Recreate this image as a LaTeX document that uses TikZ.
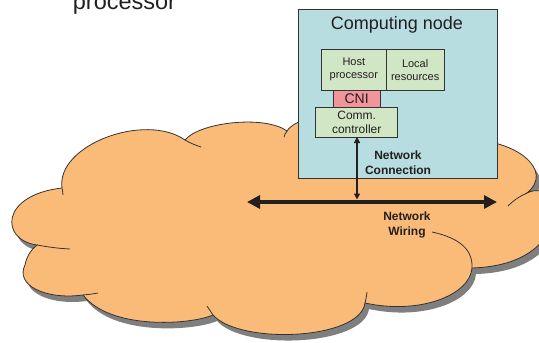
\documentclass[tikz,border=0pt]{standalone}
\usepackage{fontspec}
\setmainfont{Liberation Sans}
\usetikzlibrary{arrows.meta}

\definecolor{cloudfill}{HTML}{FBBB78}
\definecolor{cloudshadow}{HTML}{7F7F7F}
\definecolor{edgegray}{HTML}{333333}
\definecolor{nodefill}{HTML}{B7DDE1}
\definecolor{unitfill}{HTML}{D1E6C4}
\definecolor{cnifill}{HTML}{F2959B}
\definecolor{inkdark}{HTML}{231F20}

% outline of the network cloud (pixel-like units, y grows downwards)
\newcommand\netcloud[1]{%
  \path[#1] (62,188) .. controls (56,145) and (145,112) .. (185,140)
    .. controls (200,122) and (265,115) .. (287,131)
    .. controls (300,110) and (400,95) .. (470,140)
    .. controls (515,140) and (555,170) .. (527,193)
    .. controls (565,175) and (575,265) .. (472,268)
    .. controls (470,295) and (420,315) .. (365,303)
    .. controls (360,340) and (240,345) .. (213,315)
    .. controls (190,325) and (110,330) .. (83,295)
    .. controls (45,300) and (15,285) .. (25,265)
    .. controls (27,255) and (32,249) .. (37,245)
    .. controls (0,240) and (0,195) .. (62,188) -- cycle;}

\tikzset{
  cloudedge/.style={draw=edgegray, line width=0.8pt},
  unitbox/.style={draw=edgegray, line width=0.8pt, fill=unitfill, inner sep=0pt,
    outer sep=0pt, align=center, text=inkdark},
  boldlabel/.style={font=\bfseries\fontsize{12}{15}\selectfont, align=center, text=inkdark},
}

\begin{document}
\begin{tikzpicture}[x=1pt, y=-1pt]
\useasboundingbox (0,0) rectangle (539,343);
\clip (0,0) rectangle (539,343);

% caption text partly cut off at the top edge
\node[anchor=base, text=inkdark, font=\fontsize{23.5}{28}\selectfont, inner sep=0pt]
  (caption) at (124.5,9.5) {processor};

% cloud: shadow, body, and the short inner arcs of the lobes
\netcloud{fill=cloudshadow, shift={(4,6)}}
\netcloud{fill=cloudfill, cloudedge}
\draw[cloudedge] (62,188) .. controls (62.5,191) and (63,193) .. (63,195);
\draw[cloudedge] (185,140) .. controls (190,143) and (195,145) .. (201,147);
\draw[cloudedge] (287,131) .. controls (285.5,133) and (284.5,135) .. (284,137);
\draw[cloudedge] (527,193) .. controls (520,196) and (514,200) .. (508,206);
\draw[cloudedge] (472,268) .. controls (473,250) and (460,238) .. (432,232);
\draw[cloudedge] (365,303) .. controls (366,299) and (366.5,296) .. (367,292);
\draw[cloudedge] (213,315) .. controls (211,312) and (209,309) .. (207,306);
\draw[cloudedge] (83,295) .. controls (88,294.5) and (93,294) .. (98,293);
\draw[cloudedge] (37,245) .. controls (48,247) and (59,248.5) .. (70,249);

% computing node
\node[draw=edgegray, line width=0.8pt, fill=nodefill, minimum width=199pt,
  minimum height=169pt, inner sep=0pt] (node) at (397.5,93.5) {};
\node[text=inkdark, font=\fontsize{18}{22}\selectfont] (title) at (397,25) {Computing node};

\node[unitbox, minimum width=64.3pt, minimum height=40.7pt,
  font=\fontsize{11}{13}\selectfont] (host) at (353.85,69.65) {Host\\processor};
\node[unitbox, minimum width=58.3pt, minimum height=40.7pt,
  font=\fontsize{11}{13}\selectfont] (local) at (415.15,69.65) {Local\\resources};
\node[unitbox, fill=cnifill, minimum width=46.7pt, minimum height=17.7pt,
  font=\fontsize{14}{16}\selectfont] (cni) at (356.65,98.85) {CNI};
\node[unitbox, minimum width=82pt, minimum height=29.3pt,
  font=\fontsize{12}{14}\selectfont] (ctrl) at (356.7,122.35) {Comm.\\controller};

% network wiring and connection
\coordinate (wireL) at (247,202);
\coordinate (wireR) at (497,202);
\coordinate (tap) at (357,199.5);
\draw[line width=3.8pt, color=inkdark,
  {Triangle[length=13pt, width=13pt]}-{Triangle[length=13pt, width=13pt]}]
  (wireL) -- (wireR);
\draw[line width=1.3pt, color=inkdark,
  {Triangle[length=6pt, width=6pt]}-{Triangle[length=6pt, width=6pt]}]
  (ctrl.south -| tap) -- (tap);

\node[boldlabel] (conn) at (398,162.5) {Network\\Connection};
\node[boldlabel] (wiring) at (407,224.5) {Network\\Wiring};
\end{tikzpicture}
\end{document}
